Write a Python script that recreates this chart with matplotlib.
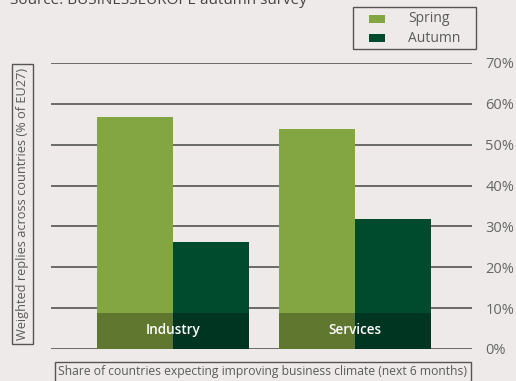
import numpy as np
import matplotlib
matplotlib.use("Agg")
import matplotlib.pyplot as plt
from matplotlib.patches import Rectangle

# data
categories = ["Industry", "Services"]
series = ["Spring", "Autumn"]
spring = [56.8, 53.9]
autumn = [26.3, 31.7]
yticks = [0, 10, 20, 30, 40, 50, 60, 70]
band_top = 8.8   # darker band that carries the category label

BG = "#eeeae9"
SPRING = "#84a642"
AUTUMN = "#004a2e"
GREY = "#555555"
TXT = "#5a5a5a"

plt.rcParams["font.family"] = ["Open Sans", "DejaVu Sans"]

fig = plt.figure(figsize=(5.16, 3.81), dpi=100, facecolor=BG)
W, H = 516, 381
ax = fig.add_axes([51 / W, 1 - 349 / H, (472 - 51) / W, (349 - 63) / H])
ax.set_facecolor(BG)

x = np.arange(len(categories))
w = 0.418
ax.bar(x - w / 2, spring, w, color=SPRING, zorder=3)
ax.bar(x + w / 2, autumn, w, color=AUTUMN, zorder=3)

for xi, cat in zip(x, categories):
    ax.add_patch(Rectangle((xi - w, 0), 2 * w, band_top, facecolor="black",
                           alpha=0.28, lw=0, zorder=4))
    ax.text(xi, band_top / 2 + 0.3, cat, color="white", ha="center", va="center",
            fontsize=9.8, fontweight="semibold", zorder=5)

ax.set_xlim(-0.670, 1.643)
ax.set_ylim(0, 70)
ax.set_yticks(yticks)
ax.set_yticklabels([f"{t}%" for t in yticks])
ax.yaxis.tick_right()
ax.tick_params(axis="y", length=0, pad=9.5, labelsize=10.5, labelcolor="#666666")
ax.set_xticks([])
ax.grid(axis="y", color=GREY, lw=1.2, zorder=0)
for s in ax.spines.values():
    s.set_visible(False)

# boxed legend above the plot, top right (figure pixel layout)
def fx(px):
    return px / W

def fy(py):
    return 1 - py / H

fig.patches.append(Rectangle((fx(353), fy(49)), fx(123), 42 / H, transform=fig.transFigure,
                             facecolor=BG, edgecolor=GREY, lw=1.0))
for i, (name, col) in enumerate(zip(series, [SPRING, AUTUMN])):
    yc = 19 + i * 19
    fig.patches.append(Rectangle((fx(369), fy(yc + 3.5)), 16 / W, 7 / H,
                                 transform=fig.transFigure, facecolor=col, lw=0))
    fig.text(fx(408), fy(yc), name, ha="left", va="center", fontsize=10, color=TXT)

# boxed axis titles
box = dict(boxstyle="square,pad=0.3", facecolor=BG, edgecolor=GREY, lw=1.0)
fig.text(fx(22.5), fy(204), "Weighted replies across countries (% of EU27)",
         rotation=90, ha="center", va="center", fontsize=9.2, color=TXT, bbox=box)
fig.text(fx(263), fy(372),
         "Share of countries expecting improving business climate (next 6 months)",
         ha="center", va="center", fontsize=8.7, color=TXT, bbox=box)

# source line, clipped at the top edge as in the original
fig.text(fx(10), fy(4), "Source: BUSINESSEUROPE autumn survey",
         ha="left", va="baseline", fontsize=11, color="#444444")

fig.savefig("out.png", dpi=100, facecolor=BG)
